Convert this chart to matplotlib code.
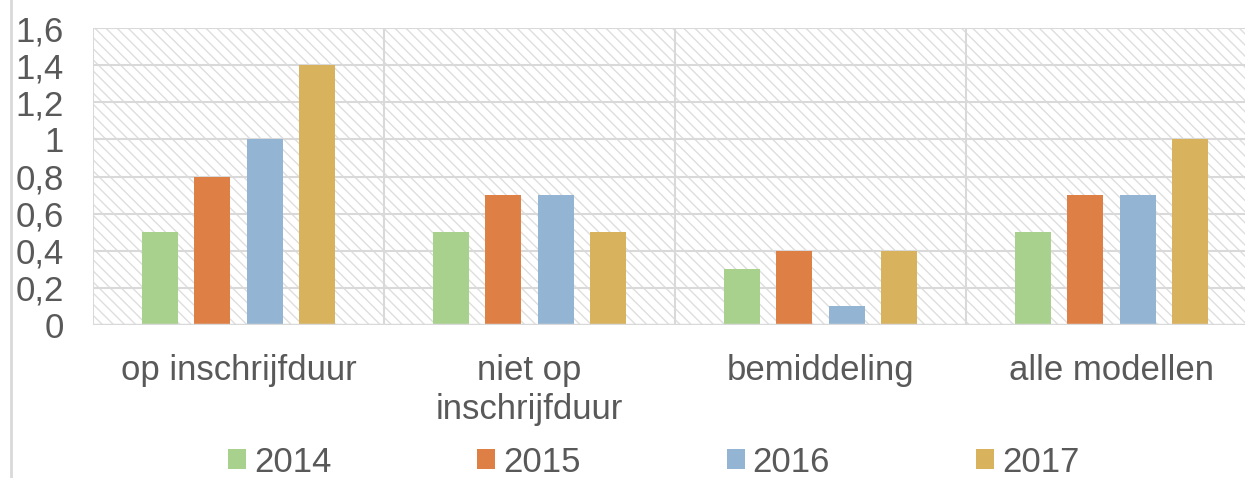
import matplotlib
matplotlib.use("Agg")
import matplotlib.pyplot as plt
import numpy as np
from matplotlib.patches import Rectangle
from matplotlib.lines import Line2D

categories = ["op inschrijfduur", "niet op\ninschrijfduur", "bemiddeling", "alle modellen"]
years = ["2014", "2015", "2016", "2017"]
v2014 = [0.5, 0.5, 0.3, 0.5]
v2015 = [0.8, 0.7, 0.4, 0.7]
v2016 = [1.0, 0.7, 0.1, 0.7]
v2017 = [1.4, 0.5, 0.4, 1.0]
series = [v2014, v2015, v2016, v2017]
colors = ["#A9D18E", "#DE7F46", "#93B5D3", "#D8B25C"]
yticks = [0, 0.2, 0.4, 0.6, 0.8, 1.0, 1.2, 1.4, 1.6]
ytick_labels = ["0", "0,2", "0,4", "0,6", "0,8", "1", "1,2", "1,4", "1,6"]

plt.rcParams['font.family'] = ['Liberation Sans', 'DejaVu Sans']
plt.rcParams['hatch.linewidth'] = 1.0
plt.rcParams['hatch.color'] = '#dedede'
txt = '#595959'
grid = '#d9d9d9'
fs = 25

W, H = 1245, 478
fig = plt.figure(figsize=(W / 100, H / 100), dpi=100)
left, right, top, bottom = 93, 1257, 28, 325
ax = fig.add_axes([left / W, 1 - bottom / H, (right - left) / W, (bottom - top) / H])

ax.set_xlim(0, 4)
ax.set_ylim(0, 1.6)

# hatched background
bg = Rectangle((0, 0), 4, 1.6, facecolor='white', edgecolor='#dedede', hatch='\\\\\\', linewidth=0, zorder=0)
ax.add_patch(bg)

# gridlines
for y in yticks[1:]:
    ax.axhline(y, color=grid, lw=1.5, zorder=1)
for xg in [0, 1, 2, 3, 4]:
    ax.axvline(xg, color=grid, lw=1.5, zorder=1)

x = np.arange(len(categories)) + 0.5
step = 0.18
width = 0.124
handles = []
for i, (vals, c) in enumerate(zip(series, colors)):
    b = ax.bar(x + (i - 1.5) * step, vals, width=width, color=c, zorder=3, label=years[i])
    handles.append(b)

for s in ax.spines.values():
    s.set_visible(False)
ax.axhline(0, color=grid, lw=2.5, zorder=4)

ax.set_yticks(yticks)
ax.set_yticklabels(ytick_labels)
ax.set_xticks(x)
ax.set_xticklabels(categories, linespacing=1.22)
ax.tick_params(axis='y', length=0, pad=21, labelsize=fs, labelcolor=txt)
ax.tick_params(axis='x', length=0, pad=21, labelsize=fs, labelcolor=txt)

leg = fig.legend(handles=handles, labels=years, ncol=4, loc='center left',
                 bbox_to_anchor=(228 / W, 1 - 462 / H), frameon=False,
                 fontsize=fs, labelcolor=txt, handlelength=0.52, handleheight=0.52,
                 handletextpad=0.23, columnspacing=4.2, borderpad=0, borderaxespad=0)

fig.add_artist(Line2D([11 / W, 11 / W], [0, 1], color=grid, lw=2, transform=fig.transFigure))

fig.savefig("out.png", dpi=100)
